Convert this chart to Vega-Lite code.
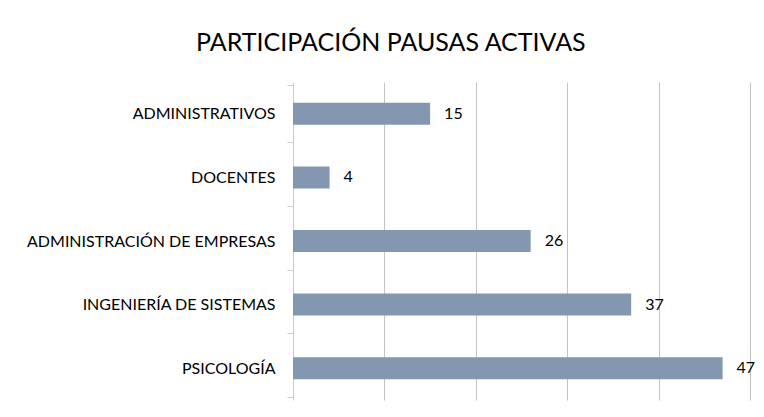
{
  "$schema": "https://vega.github.io/schema/vega-lite/v6.json",
  "width": 457,
  "height": 318,
  "autosize": "none",
  "padding": {"left": 293, "top": 82, "right": 14, "bottom": 17},
  "background": "white",
  "title": {"text": "PARTICIPACIÓN PAUSAS ACTIVAS", "font": "Lato", "fontSize": 25, "fontWeight": "normal", "color": "#000000", "anchor": "middle", "frame": "bounds", "offset": 18},
  "data": {"values": [
    {"categoria": "ADMINISTRATIVOS", "valor": 15},
    {"categoria": "DOCENTES", "valor": 4},
    {"categoria": "ADMINISTRACIÓN DE EMPRESAS", "valor": 26},
    {"categoria": "INGENIERÍA DE SISTEMAS", "valor": 37},
    {"categoria": "PSICOLOGÍA", "valor": 47}
  ]},
  "encoding": {
    "y": {"field": "categoria", "type": "nominal", "sort": null, "title": null,
      "axis": {"labelFont": "Lato", "labelFontSize": 16, "labelLimit": 0, "labelColor": "#000000", "labelPadding": 12, "tickBand": "extent", "tickSize": 6, "tickColor": "#cccccc", "domainColor": "#cccccc", "grid": false}},
    "x": {"field": "valor", "type": "quantitative", "title": null, "scale": {"domain": [0, 50]},
      "axis": {"values": [10, 20, 30, 40, 50], "labels": false, "ticks": false, "domain": false, "grid": true, "gridColor": "#c4c4c4", "gridWidth": 1}}
  },
  "layer": [
    {"mark": {"type": "bar", "color": "#8497B0", "size": 22}},
    {"mark": {"type": "text", "align": "left", "dx": 14, "font": "Lato", "fontSize": 16, "color": "#000000"}, "encoding": {"text": {"field": "valor", "type": "quantitative"}}}
  ],
  "config": {"view": {"stroke": null}}
}
